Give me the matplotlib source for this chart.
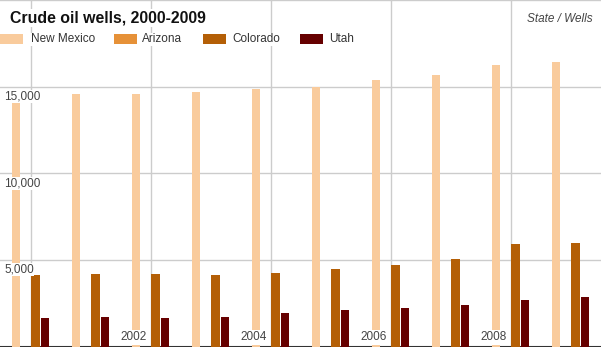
import matplotlib
matplotlib.use("Agg")
import matplotlib.pyplot as plt
from matplotlib.patches import Rectangle
import numpy as np

plt.rcParams['font.family'] = ['Liberation Sans', 'DejaVu Sans']

years = [2000, 2001, 2002, 2003, 2004, 2005, 2006, 2007, 2008, 2009]
states = ["New Mexico", "Arizona", "Colorado", "Utah"]
new_mexico = [14300, 14600, 14600, 14710, 14880, 14980, 15400, 15690, 16270, 16450]
arizona = [0, 0, 0, 0, 0, 0, 0, 0, 0, 0]
colorado = [4130, 4190, 4190, 4130, 4250, 4480, 4710, 5060, 5930, 5990]
utah = [1650, 1700, 1650, 1700, 1940, 2110, 2230, 2400, 2690, 2860]
colors = ["#f9cb9c", "#e69138", "#b45f06", "#660000"]
ytick_vals = [5000, 10000, 15000]

W, H = 601, 347
fig = plt.figure(figsize=(W / 100, H / 100), dpi=100)
ax = fig.add_axes([0, 0.5 / H, 1, 346.5 / H])
ax.set_xlim(-30.5 / 60, (601 - 30.5) / 60)
ax.set_ylim(0, 20000)

x = np.arange(len(years))
slot = 9.67 / 60
bw = 8.5 / 60
series = [new_mexico, arizona, colorado, utah]
for k, (vals, c) in enumerate(zip(series, colors)):
    ax.bar(x + (k - 1.5) * slot, vals, width=bw, color=c, zorder=3, linewidth=0)

# grid
for v in ytick_vals:
    ax.axhline(v, color="#cccccc", lw=1, zorder=1)
for i in x[::2]:
    ax.axvline(i, color="#cccccc", lw=1, zorder=1)

for s in ["left", "right"]:
    ax.spines[s].set_visible(False)
ax.spines["top"].set_color("#cccccc")
ax.spines["top"].set_linewidth(1)
ax.spines["bottom"].set_color("#333333")
ax.spines["bottom"].set_linewidth(1.5)
ax.set_xticks([])
ax.set_yticks([])

# y labels inside plot, below gridlines
for v in ytick_vals:
    ax.annotate(f"{v:,}", xy=(0, v), xycoords=("axes fraction", "data"),
                xytext=(4, -4), textcoords="offset pixels", ha="left", va="top",
                fontsize=8.5, color="#444444", zorder=5,
                bbox=dict(boxstyle="square,pad=0.05", fc="white", ec="none"))

# year labels
for i in x[2::2]:
    ax.annotate(str(years[i]), xy=(i, 0), xycoords="data",
                xytext=(-4, 3), textcoords="offset pixels", ha="right", va="bottom",
                fontsize=8.5, color="#444444", zorder=5,
                bbox=dict(boxstyle="square,pad=0.1", fc="white", ec="none"))

# title
fig.text(10.5 / W, 1 - 18 / H, "Crude oil wells, 2000-2009", ha="left", va="center",
         fontsize=11.4, fontweight="bold", color="#111111", zorder=10,
         bbox=dict(boxstyle="square,pad=0.1", fc="white", ec="none"))
fig.text(593 / W, 1 - 19 / H, "State / Wells", ha="right", va="center",
         fontsize=8.5, style="italic", color="#444444", zorder=10)

# legend
patch_x = [0, 114, 203, 300]
text_x = [31, 142, 232, 329]
for name, c, px, tx in zip(states, colors, patch_x, text_x):
    fig.patches.append(Rectangle((px / W, 1 - 44 / H), 23 / W, 10 / H,
                                 transform=fig.transFigure, fc=c, ec="none", zorder=10))
    fig.text(tx / W, 1 - 39.5 / H, name, ha="left", va="center", fontsize=8.5,
             color="#333333", zorder=10,
             bbox=dict(boxstyle="square,pad=0.05", fc="white", ec="none"))

fig.savefig("out.png", dpi=100)
